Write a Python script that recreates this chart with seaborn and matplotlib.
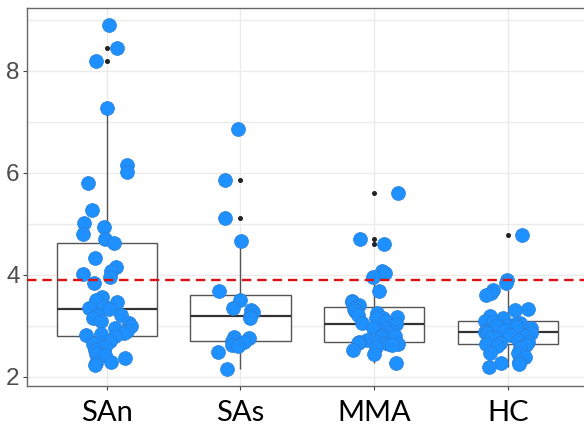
import numpy as np
import pandas as pd
import seaborn as sns
import matplotlib.pyplot as plt
from matplotlib.ticker import MultipleLocator

# values
groups = ["SAn", "SAs", "MMA", "HC"]

san = [8.89, 8.44, 8.20, 7.27, 6.15, 6.01, 5.80, 5.27, 5.02, 4.94, 4.80, 4.71,
       4.63, 4.33, 4.16, 4.07, 4.01, 3.96, 3.83, 3.56, 3.50, 3.47, 3.39, 3.34,
       3.33, 3.22, 3.21, 3.16, 3.10, 3.05, 2.99, 2.95, 2.90, 2.85, 2.83, 2.82,
       2.80, 2.70, 2.65, 2.64, 2.59, 2.59, 2.52, 2.44, 2.42, 2.37, 2.28, 2.26,
       2.23]
sas = [6.86, 5.86, 5.12, 4.66, 3.69, 3.50, 3.34, 3.30, 3.27, 3.19, 3.16, 2.78,
       2.76, 2.71, 2.69, 2.62, 2.60, 2.49, 2.16]
mma = [5.60, 4.71, 4.60, 4.08, 4.03, 3.96, 3.69, 3.49, 3.47, 3.40, 3.36, 3.32,
       3.28, 3.24, 3.22, 3.18, 3.15, 3.15, 3.10, 3.05, 3.03, 3.00, 2.95, 2.95,
       2.90, 2.88, 2.82, 2.80, 2.77, 2.72, 2.69, 2.69, 2.67, 2.67, 2.65, 2.64,
       2.62, 2.58, 2.52, 2.45, 2.26]
hc = [4.78, 3.90, 3.83, 3.71, 3.65, 3.60, 3.32, 3.31, 3.20, 3.15, 3.10, 3.08,
      3.05, 3.03, 3.00, 2.99, 2.98, 2.95, 2.92, 2.90, 2.88, 2.85, 2.85, 2.82,
      2.80, 2.78, 2.75, 2.72, 2.69, 2.66, 2.64, 2.62, 2.60, 2.56, 2.46, 2.46,
      2.39, 2.29, 2.26, 2.24, 2.20]
cutoff = 3.89

df = pd.DataFrame({
    "group": ["SAn"] * len(san) + ["SAs"] * len(sas) + ["MMA"] * len(mma) + ["HC"] * len(hc),
    "value": san + sas + mma + hc,
})

sns.set_theme(style="white")
plt.rcParams["font.family"] = ["Liberation Sans", "DejaVu Sans"]

fig = plt.figure(figsize=(5.84, 4.26), dpi=100)
ax = fig.add_axes([26.5 / 584, 40 / 426, 561.5 / 584, 378 / 426])

sns.boxplot(data=df, x="group", y="value", order=groups, width=0.75,
            color="white", linecolor="#555555", linewidth=1.0,
            medianprops={"linewidth": 1.6, "color": "#333333"},
            capprops={"linewidth": 0},
            flierprops={"marker": "o", "markersize": 2.6, "markerfacecolor": "#222222",
                        "markeredgecolor": "#222222"},
            ax=ax, zorder=2)

np.random.seed(3)
sns.stripplot(data=df, x="group", y="value", order=groups, jitter=0.19,
              size=10, color="#1E90FF", edgecolor="#2a7fd4", linewidth=0.5,
              ax=ax, zorder=3)

ax.axhline(cutoff, color="#DD1111", linestyle=(0, (4, 2.5)), linewidth=1.7, zorder=4)

ax.set_xlim(-0.6, 3.6)
ax.set_ylim(1.818, 9.23)
ax.yaxis.set_major_locator(MultipleLocator(2))
ax.yaxis.set_minor_locator(MultipleLocator(1))
ax.grid(True, which="major", color="#EBEBEB", linewidth=1.0, zorder=0)
ax.grid(True, which="minor", axis="y", color="#EBEBEB", linewidth=1.0, zorder=0)
ax.set_axisbelow(True)

for side in ["left", "top", "bottom", "right"]:
    ax.spines[side].set_color("#666666")
    ax.spines[side].set_linewidth(1.0)

ax.tick_params(axis="both", which="major", length=3, width=0.8, color="#444444", bottom=True, left=True)
ax.tick_params(axis="y", which="minor", length=0)
ax.tick_params(axis="y", labelsize=17.5, labelcolor="#4D4D4D", pad=2)
ax.tick_params(axis="x", labelsize=21, labelcolor="black", pad=7)
for lab in ax.get_xticklabels():
    lab.set_family(["Lato", "DejaVu Sans"])

ax.set_xlabel("")
ax.set_ylabel("")

fig.savefig("out.png", dpi=100)
